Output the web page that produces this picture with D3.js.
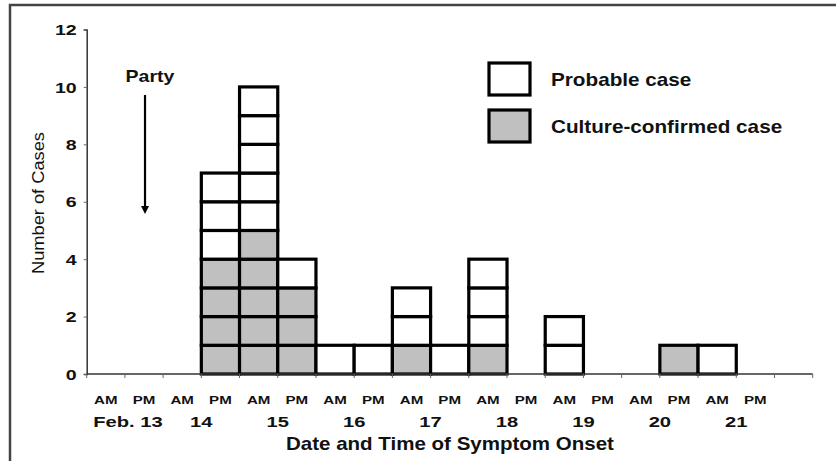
<!DOCTYPE html>
<html><head><meta charset="utf-8">
<script src="https://cdn.jsdelivr.net/npm/d3@7"></script>
<style>
body{margin:0;background:#fff;}
svg{display:block;font-family:"Liberation Sans",Arial,sans-serif;}
</style></head>
<body><svg id="c" width="836" height="461"></svg>
<script>
// slot labels (AM/PM halves of each day), plus one trailing empty slot
const slots = ["AM","PM","AM","PM","AM","PM","AM","PM","AM","PM","AM","PM","AM","PM","AM","PM","AM","PM",""];
const days = ["Feb. 13","14","15","16","17","18","19","20","21"];
const confirmed = [0,0,0,4,5,3,0,0,1,0,1,0,0,0,0,1,0,0,0];
const probable  = [0,0,0,3,5,1,1,1,2,1,3,0,2,0,0,0,1,0,0];
const yTicks = [0,2,4,6,8,10,12];
const legendItems = ["Probable case","Culture-confirmed case"];

const svg = d3.select("#c");
const x = d3.scaleBand().domain(d3.range(slots.length)).range([86.7,812.7]).paddingInner(0).paddingOuter(0);
const y = d3.scaleLinear().domain([0,12]).range([374,29.5]);

// widen text horizontally (the source glyphs look stretched)
function stretch(sel, f){
  sel.each(function(){
    const L = this.getComputedTextLength();
    if(L>0){ this.setAttribute("textLength", L*f); this.setAttribute("lengthAdjust","spacingAndGlyphs"); }
  });
}

// frame
svg.append("path").attr("d","M10,461 V5 H836").attr("fill","none").attr("stroke","#444").attr("stroke-width",2.5);

// cells: one box per case
const cells = [];
slots.forEach((s,i)=>{
  for(let k=0;k<confirmed[i];k++) cells.push({i, k, type:"c"});
  for(let k=0;k<probable[i];k++) cells.push({i, k:confirmed[i]+k, type:"p"});
});
svg.append("g").selectAll("rect").data(cells).join("rect")
  .attr("x",d=>x(d.i)).attr("width",x.bandwidth())
  .attr("y",d=>y(d.k+1)).attr("height",d=>y(d.k)-y(d.k+1))
  .attr("fill",d=>d.type==="c"?"#c0c0c0":"#fff")
  .attr("stroke","#000").attr("stroke-width",3.2);

// y axis
const ya = svg.append("g").attr("transform","translate(86.7,0)")
  .call(d3.axisLeft(y).tickValues(yTicks).tickSize(3).tickPadding(7));
ya.select(".domain").attr("stroke","#333").attr("stroke-width",1.5);
ya.selectAll(".tick line").attr("stroke","#666");
ya.selectAll("text").attr("font-size",14.5).attr("font-weight","bold").attr("fill","#111")
  .attr("font-family","Liberation Sans, Arial, sans-serif").attr("dy","0.36em");
stretch(ya.selectAll("text"),1.35);

// x axis: ticks at slot boundaries
const boundaries = d3.range(slots.length+1).map(i=>86.7 + i*x.step());
svg.append("line").attr("x1",86.7).attr("x2",812.7).attr("y1",374).attr("y2",374).attr("stroke","#333").attr("stroke-width",1.5);
svg.append("g").selectAll("line").data(boundaries).join("line")
  .attr("x1",d=>d).attr("x2",d=>d).attr("y1",374).attr("y2",378).attr("stroke","#666").attr("stroke-width",1);

const sl = svg.append("g").selectAll("text").data(slots).join("text")
  .attr("x",(d,i)=>x(i)+x.bandwidth()/2).attr("y",403.5)
  .attr("text-anchor","middle").attr("font-size",11.8).attr("font-weight","bold").attr("fill","#111")
  .text(d=>d);
stretch(sl,1.28);

const dl = svg.append("g").selectAll("text").data(days).join("text")
  .attr("x",(d,i)=>x(i*2)+x.step()+(i===0?3:0)).attr("y",426.7)
  .attr("text-anchor","middle").attr("font-size",15.5).attr("font-weight","bold").attr("fill","#111")
  .text(d=>d);
stretch(dl,1.3);

const tt = svg.append("text").attr("x",450).attr("y",450).attr("text-anchor","middle")
  .attr("font-size",17.7).attr("font-weight","bold").attr("fill","#111")
  .text("Date and Time of Symptom Onset");
stretch(tt,1.16);

const yl = svg.append("text").attr("transform","translate(44,203) rotate(-90)").attr("text-anchor","middle")
  .attr("font-size",16.5).attr("fill","#111")
  .text("Number of Cases");
yl.attr("textLength",142).attr("lengthAdjust","spacingAndGlyphs");

// Party annotation
const px = x(1)+x.bandwidth()/2+1;
const pt = svg.append("text").attr("x",px+5).attr("y",81.7).attr("text-anchor","middle")
  .attr("font-size",16.3).attr("font-weight","bold").attr("fill","#111").text("Party");
stretch(pt,1.2);
svg.append("line").attr("x1",px).attr("x2",px).attr("y1",95).attr("y2",209).attr("stroke","#000").attr("stroke-width",2.2);
svg.append("path").attr("d",`M${px-4},206 L${px+4},206 L${px},214 Z`).attr("fill","#000");

// legend
const lg = svg.append("g");
legendItems.forEach((t,i)=>{
  const yy = 63 + i*47;
  lg.append("rect").attr("x",489).attr("y",yy).attr("width",41).attr("height",32)
    .attr("fill",i===0?"#fff":"#c0c0c0").attr("stroke","#000").attr("stroke-width",3.2);
  const lt = lg.append("text").attr("x",551).attr("y",yy+23.3).attr("font-size",17.7).attr("font-weight","bold").attr("fill","#111").text(t);
  stretch(lt,1.17);
});
</script></body></html>
